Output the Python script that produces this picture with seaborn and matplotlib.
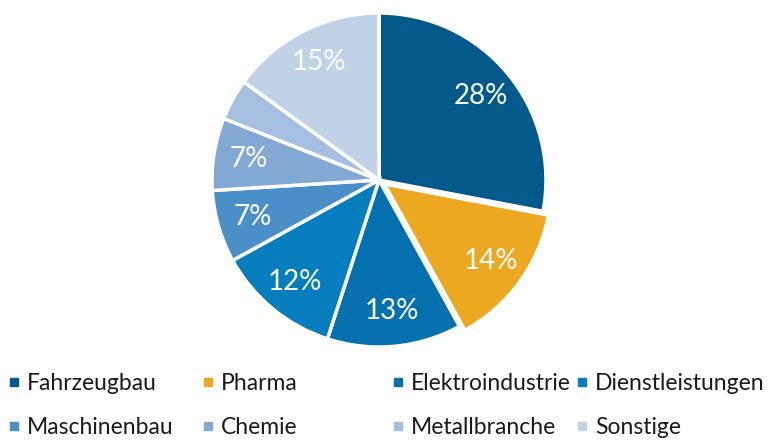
import matplotlib.pyplot as plt
from matplotlib.lines import Line2D
import seaborn as sns

# Data
branchen = ["Fahrzeugbau", "Pharma", "Elektroindustrie", "Dienstleistungen",
            "Maschinenbau", "Chemie", "Metallbranche", "Sonstige"]
anteile = [28, 14, 13, 12, 7, 7, 4, 15]
farben = ["#03598A", "#EDA821", "#0570AE", "#067DBC",
          "#4A8FC8", "#82A8D4", "#A4BFDF", "#C0D2E6"]

sns.set_theme(style="white")
plt.rcParams['font.family'] = ['Lato', 'DejaVu Sans']

fig = plt.figure(figsize=(7.76, 4.4), dpi=100)
ax = fig.add_axes([(379 - 167) / 776, (440 - 180 - 167) / 440, 334 / 776, 334 / 440])

palette = sns.color_palette(farben)
explode = [0.04 if b == "Pharma" else 0 for b in branchen]

def fmt(p):
    return f"{p:.0f}%" if p >= 5 else ""

wedges, texts, autotexts = ax.pie(
    anteile, colors=palette, startangle=90, counterclock=False,
    explode=explode, autopct=fmt, pctdistance=0.79,
    wedgeprops=dict(edgecolor="white", linewidth=2.5),
    textprops=dict(color="white", fontsize=20))
ax.set_xlim(-1, 1)
ax.set_ylim(-1, 1)
ax.set_aspect("equal")
ax.axis("off")

# Legend: 4 columns, 2 rows, fixed column positions
col_x = [-4, 190, 380, 564]
for c in range(4):
    idx = [c, c + 4]
    handles = [Line2D([], [], linestyle="none", marker="s", markersize=6,
                      color=farben[i]) for i in idx]
    leg = fig.legend(handles, [branchen[i] for i in idx], loc="upper left",
                     bbox_to_anchor=(col_x[c] / 776, 1 - 362 / 440),
                     frameon=False, fontsize=16.5, handlelength=0.55,
                     handletextpad=0.3, labelspacing=1.0, borderpad=0)
    for t in leg.get_texts():
        t.set_color("#1a1a1a")

fig.savefig("out.png", dpi=100)
